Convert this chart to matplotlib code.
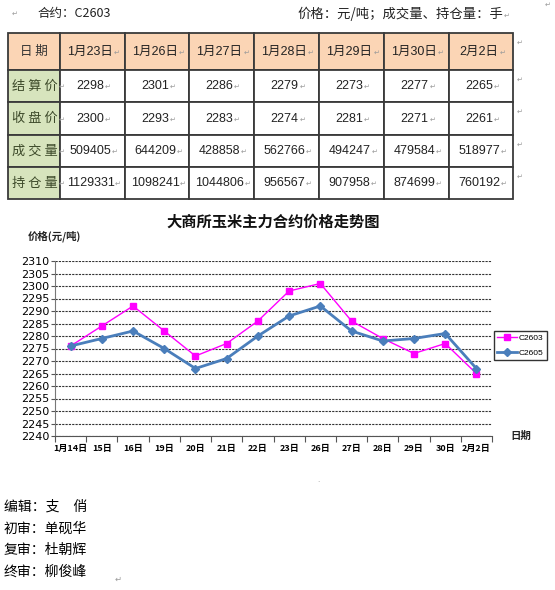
import numpy as np
import matplotlib.pyplot as plt
from matplotlib.patches import Rectangle

plt.rcParams['font.family'] = ['Liberation Sans', 'Noto Sans CJK SC', 'DejaVu Sans']

# table data
table_dates = ['1月23日', '1月26日', '1月27日', '1月28日', '1月29日', '1月30日', '2月2日']
row_names = ['结 算 价', '收 盘 价', '成 交 量', '持 仓 量']
settle = [2298, 2301, 2286, 2279, 2273, 2277, 2265]
close = [2300, 2293, 2283, 2274, 2281, 2271, 2261]
volume = [509405, 644209, 428858, 562766, 494247, 479584, 518977]
open_int = [1129331, 1098241, 1044806, 956567, 907958, 874699, 760192]

# chart data
days = ['1月14日', '15日', '16日', '19日', '20日', '21日', '22日', '23日',
        '26日', '27日', '28日', '29日', '30日', '2月2日']
c2603 = [2276, 2284, 2292, 2282, 2272, 2277, 2286, 2298, 2301, 2286, 2279, 2273, 2277, 2265]
c2605 = [2276, 2279, 2282, 2275, 2267, 2271, 2280, 2288, 2292, 2282, 2278, 2279, 2281, 2267]

cjk = ['Noto Sans CJK SC', 'DejaVu Sans']
mark_col = '#9a9a9a'

fig = plt.figure(figsize=(5.55, 5.9), dpi=100)
bg = fig.add_axes([0, 0, 1, 1])
bg.set_xlim(0, 555)
bg.set_ylim(590, 0)
bg.axis('off')


def para_mark(txt):
    bg.annotate('↵', xy=(1, 0.1), xycoords=txt, xytext=(0.5, 0), textcoords='offset points',
                fontsize=5, color=mark_col, ha='left', va='bottom', family=cjk)


# heading line
bg.text(15, 14, '↵', fontsize=5, color=mark_col, ha='center', va='center', family=cjk)
bg.text(548, 5, '↵', fontsize=5, color=mark_col, ha='center', va='center', family=cjk)
bg.text(38, 14, '合约：C2603', fontsize=9, ha='left', va='center', color='#222222', family=cjk)
t = bg.text(503, 14, '价格：元/吨；成交量、持仓量：手', fontsize=9.6, ha='right', va='center',
            color='#222222', family=cjk)
para_mark(t)

# table
col_x = [8, 60, 125, 189, 254, 319, 384, 449, 513]
row_y = [33, 70, 102, 135, 167, 199]
peach = '#FBD5B5'
green = '#D7E4BD'
cells = [[str(v) for v in r] for r in (settle, close, volume, open_int)]

for i in range(len(row_y) - 1):
    for j in range(len(col_x) - 1):
        x0, x1 = col_x[j], col_x[j + 1]
        y0, y1 = row_y[i], row_y[i + 1]
        if i == 0:
            fc = peach
        elif j == 0:
            fc = green
        else:
            fc = 'white'
        bg.add_patch(Rectangle((x0, y0), x1 - x0, y1 - y0, facecolor=fc,
                               edgecolor='#3a3a3a', linewidth=1.3))
        cx, cy = (x0 + x1) / 2, (y0 + y1) / 2
        if i == 0 and j == 0:
            bg.text(cx, cy, '日 期', fontsize=9, ha='center', va='center', color='#333333', family=cjk)
        elif i == 0:
            t = bg.text(cx - 2, cy, table_dates[j - 1], fontsize=9, ha='center', va='center', color='#222222')
            para_mark(t)
        elif j == 0:
            t = bg.text(cx + 1, cy, row_names[i - 1], fontsize=9.5, ha='center', va='center',
                        color='#3d4a2a', family=cjk)
            para_mark(t)
        else:
            t = bg.text(cx - 2, cy, cells[i - 1][j - 1], fontsize=9, ha='center', va='center', color='#222222')
            para_mark(t)
    bg.text(520, (row_y[i] + row_y[i] + 10) / 2 + 5, '↵', fontsize=5, color=mark_col,
            ha='center', va='center', family=cjk)

# chart
ax = fig.add_axes([55 / 555, 1 - 436 / 590, 437 / 555, 175 / 590])
x = np.arange(len(days))
ax.plot(x, c2603, color='#FF00FF', linewidth=1, marker='s', markersize=4.5, label='C2603', zorder=3)
ax.plot(x, c2605, color='#4A7EBB', linewidth=2, marker='D', markersize=4.5, label='C2605', zorder=4)

ax.set_xlim(-0.5, len(days) - 0.5)
ax.set_ylim(2240, 2310)
ax.set_yticks(np.arange(2240, 2311, 5))
ax.set_yticklabels([str(v) for v in range(2240, 2311, 5)], family='DejaVu Sans', fontsize=8)
ax.tick_params(axis='y', length=3, width=0.8, color='#555555', pad=1)
ax.set_xticks(x)
ax.set_xticklabels(days, family=cjk, fontsize=6.5, fontweight='bold')
ax.set_xticks(np.arange(-0.5, len(days), 1), minor=True)
ax.tick_params(axis='x', which='major', length=0, pad=6)
ax.tick_params(axis='x', which='minor', length=4, width=0.8, color='#555555')
ax.grid(axis='y', color='#333333', linestyle=(0, (2, 1)), linewidth=0.8)
ax.set_axisbelow(True)
for s in ('top', 'right'):
    ax.spines[s].set_visible(False)
ax.spines['left'].set_color('#777777')
ax.spines['bottom'].set_color('#555555')

leg = ax.legend(loc='upper left', bbox_to_anchor=(494 / 555, 1 - 331 / 590),
                bbox_transform=fig.transFigure, fontsize=6, frameon=True, fancybox=False,
                borderpad=0.4, handlelength=2.4, handletextpad=0.15, labelspacing=0.8,
                borderaxespad=0)
leg.get_frame().set_edgecolor('black')
leg.get_frame().set_linewidth(1)

bg.text(273, 222, '大商所玉米主力合约价格走势图', fontsize=11, fontweight='bold',
        ha='center', va='center', family=cjk, color='#111111')
bg.text(28, 236, '价格(元/吨)', fontsize=7.5, fontweight='bold', ha='left', va='center',
        family=cjk, color='#222222')
bg.text(510, 436, '日期', fontsize=7.5, fontweight='bold', ha='left', va='center',
        family=cjk, color='#222222')
bg.text(318, 480, '.', fontsize=6, color=mark_col, ha='center', va='center')

# sign-off block
signoff = ['编辑：支　俏', '初审：单砚华', '复审：杜朝辉', '终审：柳俊峰']
for k, s in enumerate(signoff):
    bg.text(4, 507 + k * 21.5, s, fontsize=10, ha='left', va='center', family=cjk, color='black')
bg.text(118, 579, '↵', fontsize=6, color=mark_col, ha='center', va='center', family=cjk)

fig.savefig('out.png', dpi=100)
